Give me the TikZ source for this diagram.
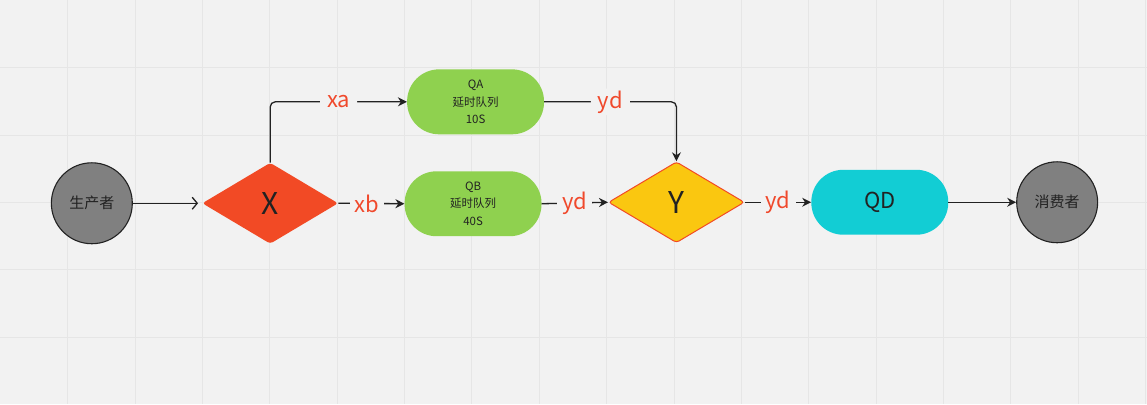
\documentclass[tikz,border=0pt]{standalone}
\usepackage{fontspec}
\setmainfont{Noto Sans CJK SC}
\usetikzlibrary{shapes.geometric,arrows.meta}
\definecolor{bg}{HTML}{F2F2F2}
\definecolor{gridc}{HTML}{E6E6E6}
\definecolor{xred}{HTML}{F24A25}
\definecolor{lblred}{HTML}{F0492C}
\definecolor{yyel}{HTML}{FAC710}
\definecolor{qgreen}{HTML}{8FD14F}
\definecolor{qcyan}{HTML}{12CDD4}
\definecolor{linec}{HTML}{222222}
\definecolor{txt}{HTML}{222222}
\definecolor{cgray}{HTML}{808080}
\begin{document}
\begin{tikzpicture}[x=1pt,y=-1pt,
  circ/.style={circle, draw=linec, line width=1.1pt, fill=cgray, minimum size=81pt, inner sep=0pt, text=txt, font=\fontsize{15}{17}\selectfont},
  dia/.style={diamond, aspect=1.68, minimum width=136pt, minimum height=81pt, inner sep=0pt, rounded corners=3pt, text=txt, font=\fontsize{30}{32}\selectfont},
  queue/.style={rectangle, rounded corners=32pt, fill=qgreen, minimum width=137pt, minimum height=65pt, inner sep=0pt, align=center, text=txt, font=\fontsize{11.5}{17.5}\selectfont},
  conn/.style={draw=linec, line width=1.3pt, -{Stealth[length=9pt,width=9pt]}},
  lbl/.style={fill=bg, text=lblred, inner xsep=7pt, inner ysep=2pt, font=\fontsize{22}{24}\selectfont}
]
\fill[bg] (0,0) rectangle (1147,404);
\foreach \i in {1,...,17} \draw[gridc, line width=0.8pt] (\i*67.4,0) -- (\i*67.4,404);
\foreach \j in {1,...,5} \draw[gridc, line width=0.8pt] (0,\j*67.4) -- (1147,\j*67.4);
\useasboundingbox (0,0) rectangle (1147,404);

\node[circ] (prod) at (91.5,203) {生产者};
\node[dia, fill=xred] (X) at (270,203) {X};
\node[queue] (QA) at (475.5,101.5) {QA\\延时队列\\10S};
\node[queue] (QB) at (473,203.5) {QB\\延时队列\\40S};
\node[dia, fill=yyel, draw=xred, line width=1pt] (Y) at (676.5,202) {Y};
\node[queue, fill=qcyan, font=\fontsize{22}{24}\selectfont] (QD) at (880,202) {QD};
\node[circ] (cons) at (1057.5,202) {消费者};

\draw[draw=linec, line width=1.3pt, -{Straight Barb[length=5pt,width=12pt]}, shorten >=4pt] (prod.east) -- (X.west);
\draw[conn, rounded corners=5pt] (X.north) |- node[lbl, pos=0.75] {xa} (QA.west);
\draw[conn, rounded corners=5pt] (QA.east) -| node[lbl, pos=0.25] {yd} (Y.north);
\draw[conn] (X.east) -- node[lbl, pos=0.43, inner xsep=5pt] {xb} (QB.west);
\draw[conn] (QB.east) -- node[lbl, inner xsep=5pt] {yd} (Y.west);
\draw[conn] (Y.east) -- node[lbl, inner xsep=5pt] {yd} (QD.west);
\draw[conn] (QD.east) -- (cons.west);
\end{tikzpicture}
\end{document}
